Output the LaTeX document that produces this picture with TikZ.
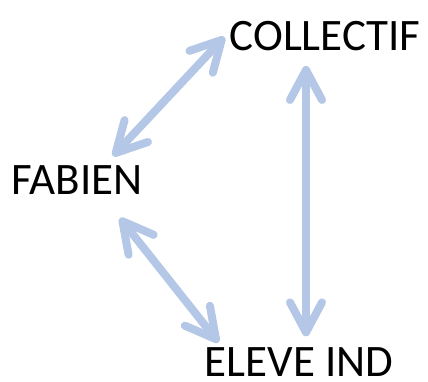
\documentclass[tikz,border=0pt]{standalone}
\usepackage{fontspec}
\setmainfont{Carlito}
\definecolor{lightblue}{RGB}{180, 199, 231}
\usetikzlibrary{arrows.meta}
\usetikzlibrary{positioning}
\tikzset{
  word/.style={inner sep=0, font=\fontsize{45}{45}\selectfont},
  barb/.tip={Straight Barb[round, length=30pt, width=32pt]},
  twoway/.style={barb-barb, line width=8pt, line cap=round, draw=lightblue}
}

\begin{document}
\begin{tikzpicture}[x=1pt, y=1pt]

    \useasboundingbox (0,0) rectangle (428,382);
    \node [word] (coll) at (325,346) {COLLECTIF};
    \node [word] (fab) at (77,201.5) {FABIEN};
    \node [word] (ind) at (299,20) {ELEVE IND};

    \draw [twoway] ([xshift=36pt, yshift=10pt]fab.north)
          -- ([xshift=-5pt, yshift=-1pt]coll.west);
    \draw [twoway] ([xshift=-19pt, yshift=-15pt]coll.south)
          -- ([xshift=7pt, yshift=11pt]ind.north);
    \draw [twoway] ([xshift=43pt, yshift=-23pt]fab.south)
          -- ([xshift=14pt, yshift=5pt]ind.north west);
\end{tikzpicture}
\end{document}
